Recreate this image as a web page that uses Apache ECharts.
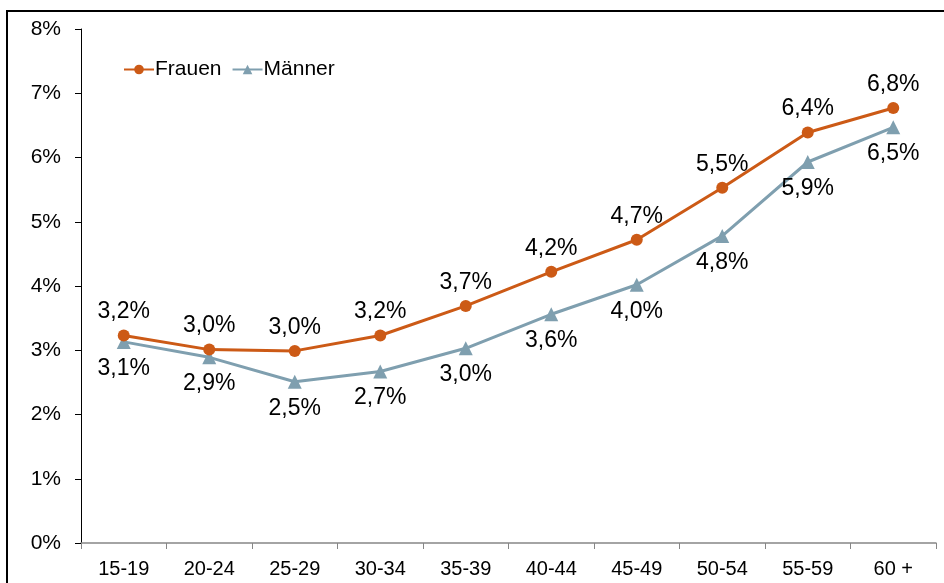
<!DOCTYPE html>
<html lang="de">
<head>
    <meta charset="UTF-8">
    <title>Frauen / Männer nach Alter</title>
    <style>
        html, body {
            margin: 0;
            padding: 0;
            background: #fff;
        }
        #frame {
            position: absolute;
            left: 6px;
            top: 10px;
            width: 960px;
            height: 600px;
            border: 2px solid #000;
        }
        #main {
            position: absolute;
            left: 0;
            top: 0;
            width: 944px;
            height: 583px;
        }
    </style>
</head>
<body>
<div id="frame"></div>
<div id="main"></div>
<script src="https://cdn.jsdelivr.net/npm/echarts@6/dist/echarts.min.js"></script>
<script>
    // Altersgruppen
    const categories = ['15-19', '20-24', '25-29', '30-34', '35-39', '40-44', '45-49', '50-54', '55-59', '60 +'];
    // Anteile in %
    const frauen = [3.23, 3.01, 2.99, 3.23, 3.69, 4.22, 4.72, 5.53, 6.39, 6.77];
    const maenner = [3.13, 2.89, 2.51, 2.67, 3.03, 3.56, 4.02, 4.78, 5.93, 6.47];

    const fontFamily = '"Liberation Sans", Arial, sans-serif';
    const fmt = p => p.value.toFixed(1).replace('.', ',') + '%';

    const myChart = echarts.init(document.getElementById('main'));
    myChart.setOption({
        animation: false,
        textStyle: {fontFamily: fontFamily},
        grid: {left: 81, top: 29, right: 8, bottom: 40, containLabel: false},
        legend: {
            left: 118,
            top: 54,
            itemWidth: 30,
            itemHeight: 12,
            itemGap: 10,
            textStyle: {fontSize: 21, color: '#000', fontFamily: fontFamily, padding: [0, 0, 0, -4]},
            data: ['Frauen', 'Männer']
        },
        xAxis: {
            type: 'category',
            data: categories,
            boundaryGap: true,
            axisLine: {lineStyle: {color: '#868686', width: 1.5}},
            axisTick: {show: true, length: 6, lineStyle: {color: '#868686'}},
            axisLabel: {fontSize: 20, color: '#000', margin: 16, fontFamily: fontFamily},
            splitLine: {show: false}
        },
        yAxis: {
            type: 'value',
            min: 0,
            max: 8,
            interval: 1,
            axisLine: {show: true, lineStyle: {color: '#000', width: 1}},
            axisTick: {show: true, length: 6, lineStyle: {color: '#000'}},
            axisLabel: {fontSize: 21, color: '#000', margin: 20, formatter: '{value}%', fontFamily: fontFamily},
            splitLine: {show: false}
        },
        series: [
            {
                name: 'Frauen',
                type: 'line',
                data: frauen,
                symbol: 'circle',
                symbolSize: 12,
                itemStyle: {color: '#CC5A16'},
                lineStyle: {color: '#CC5A16', width: 3},
                label: {
                    show: true,
                    position: 'top',
                    distance: 6,
                    fontSize: 23,
                    color: '#000',
                    fontFamily: fontFamily,
                    formatter: fmt
                },
                z: 3
            },
            {
                name: 'Männer',
                type: 'line',
                data: maenner,
                symbol: 'triangle',
                symbolSize: 14,
                itemStyle: {color: '#7F9FAF'},
                lineStyle: {color: '#7F9FAF', width: 3},
                label: {
                    show: true,
                    position: 'bottom',
                    distance: 8,
                    fontSize: 23,
                    color: '#000',
                    fontFamily: fontFamily,
                    formatter: fmt
                },
                z: 2
            }
        ]
    });
</script>
</body>
</html>
